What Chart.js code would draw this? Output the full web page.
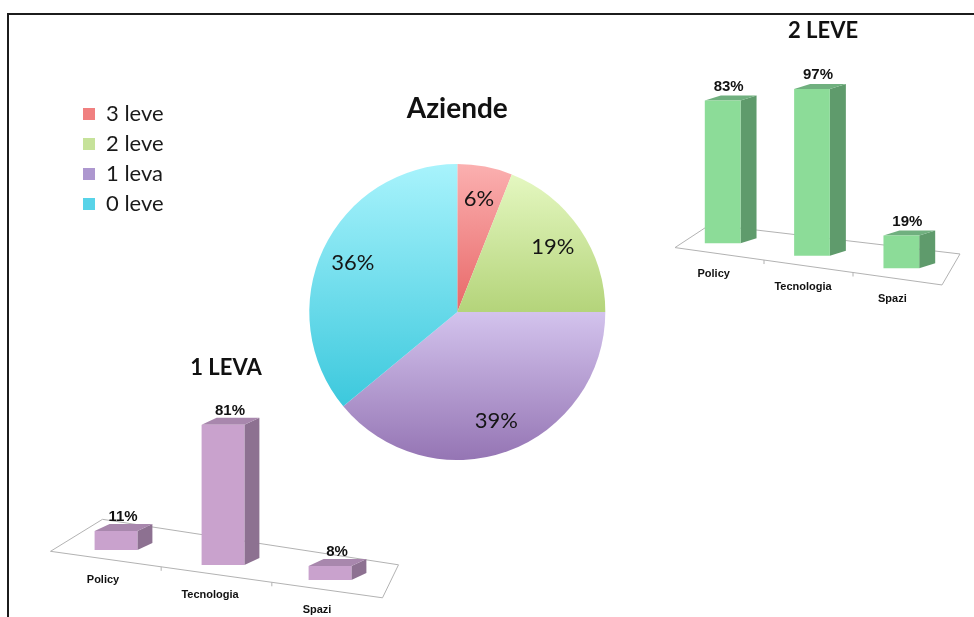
<!DOCTYPE html>
<html>
<head>
<meta charset="utf-8">
<script src="https://cdn.jsdelivr.net/npm/chart.js@4.4.0/dist/chart.umd.min.js"></script>
<style>
    body { margin: 0; width: 974px; height: 617px; background: #fff; overflow: hidden; position: relative; }
    #frame { position: absolute; left: 7px; top: 13px; width: 990px; height: 640px; border-top: 2px solid #1c1c1c; border-left: 2px solid #1c1c1c; }
    canvas { position: absolute; }
    #pieChart { left: 75px; top: 95px; }
    #unaLevaChart { left: 30px; top: 340px; }
    #dueLeveChart { left: 670px; top: 15px; }
</style>
</head>
<body>
<div id="frame"></div>
<canvas id="pieChart" width="666" height="365"></canvas>
<canvas id="unaLevaChart" width="410" height="277"></canvas>
<canvas id="dueLeveChart" width="300" height="300"></canvas>
<script>
let pieLabels = ['3 leve', '2 leve', '1 leva', '0 leve'];
let pieValues = [6, 19, 39, 36];
let barCategories = ['Policy', 'Tecnologia', 'Spazi'];
let unaLevaValues = [11, 81, 8];
let dueLeveValues = [83, 97, 19];

let pieStops = [
    [[0, '#fbb0b0'], [0.5, '#e86868'], [1, '#d84a4a']],
    [[0, '#e8fac6'], [0.5, '#b4d47a'], [1, '#a0c466']],
    [[0, '#e2d4f7'], [0.5, '#d3c3ed'], [1, '#9575b4']],
    [[0, '#a8f3fc'], [1, '#24bfd6']]
];
let legendColors = ['#f08080', '#c6e29a', '#ad97cf', '#58d3e8'];


function sliceGradient(context) {
    let chart = context.chart;
    let area = chart.chartArea;
    let stops = pieStops[context.dataIndex];
    if (!area) {
        return stops[0][1];
    }
    let g = chart.ctx.createLinearGradient(0, area.top, 0, area.bottom);
    stops.forEach(s => g.addColorStop(s[0], s[1]));
    return g;
}


// percent text inside each slice
let pieLabelPlugin = {
    id: 'pieLabels',
    afterDatasetsDraw(chart) {
        let ctx = chart.ctx;
        let meta = chart.getDatasetMeta(0);
        ctx.save();
        ctx.font = '22px Lato';
        ctx.fillStyle = '#151515';
        ctx.textAlign = 'center';
        ctx.textBaseline = 'middle';
        meta.data.forEach((arc, i) => {
            let p = arc.getProps(['x', 'y', 'startAngle', 'endAngle', 'outerRadius'], true);
            let mid = (p.startAngle + p.endAngle) / 2;
            let r = p.outerRadius * 0.78;
            ctx.fillText(pieValues[i] + '%', p.x + Math.cos(mid) * r, p.y + Math.sin(mid) * r);
        });
        ctx.restore();
    }
};


// fake 3d bars on a slanted floor
let bar3dPlugin = {
    id: 'bar3d',
    beforeDatasetsDraw(chart, args, opts) {
        let ctx = chart.ctx;
        let area = chart.chartArea;
        let base = chart.scales.y.getPixelForValue(0);
        let yAt = x => base + opts.slope * (x - area.left) + opts.floorDrop;
        let x0 = area.left + opts.floorX[0];
        let x1 = area.right + opts.floorX[1];
        let bl = opts.floorBackLeft, br = opts.floorBackRight;

        ctx.save();
        ctx.beginPath();
        ctx.moveTo(x0, yAt(x0));
        ctx.lineTo(x1, yAt(x1));
        ctx.lineTo(x1 + br[0], yAt(x1) + br[1]);
        ctx.lineTo(x0 + bl[0], yAt(x0) + bl[1]);
        ctx.closePath();
        ctx.fillStyle = '#fff';
        ctx.fill();
        ctx.strokeStyle = '#b2b2b2';
        ctx.lineWidth = 1;
        ctx.stroke();

        let n = barCategories.length;
        for (let i = 1; i < n; i++) {
            let xb = x0 + (x1 - x0) * i / n;
            ctx.beginPath();
            ctx.moveTo(xb, yAt(xb));
            ctx.lineTo(xb, yAt(xb) + 4);
            ctx.stroke();
        }
        ctx.restore();
    },
    beforeDatasetDraw(chart, args, opts) {
        let ctx = chart.ctx;
        let area = chart.chartArea;
        let dx = opts.depth[0], dy = opts.depth[1];

        args.meta.data.forEach(bar => {
            let p = bar.getProps(['x', 'y', 'base', 'width'], true);
            let shift = opts.slope * (p.x - area.left);
            let left = p.x - p.width / 2;
            let right = p.x + p.width / 2;
            let top = p.y + shift;
            let bottom = p.base + shift;

            ctx.save();
            ctx.fillStyle = opts.sideColor;
            ctx.beginPath();
            ctx.moveTo(right, top);
            ctx.lineTo(right + dx, top + dy);
            ctx.lineTo(right + dx, bottom + dy);
            ctx.lineTo(right, bottom);
            ctx.closePath();
            ctx.fill();

            ctx.fillStyle = opts.topColor;
            ctx.beginPath();
            ctx.moveTo(left, top);
            ctx.lineTo(left + dx, top + dy);
            ctx.lineTo(right + dx, top + dy);
            ctx.lineTo(right, top);
            ctx.closePath();
            ctx.fill();

            ctx.translate(0, shift);
            bar.draw(ctx, area);
            ctx.restore();
        });
        return false;
    },
    afterDraw(chart, args, opts) {
        let ctx = chart.ctx;
        let area = chart.chartArea;
        let xs = chart.scales.x;
        let ys = chart.scales.y;
        let values = chart.data.datasets[0].data;

        ctx.save();
        ctx.textAlign = 'center';
        ctx.textBaseline = 'middle';
        ctx.fillStyle = '#111';

        ctx.font = 'bold 22px Lato';
        ctx.fillText(opts.title, opts.titlePos[0], opts.titlePos[1]);

        for (let i = 0; i < values.length; i++) {
            let x = xs.getPixelForValue(i);
            let shift = opts.slope * (x - area.left);
            let top = ys.getPixelForValue(values[i]) + shift;
            let base = ys.getPixelForValue(0) + shift;

            ctx.font = 'bold 15px "Liberation Sans"';
            ctx.fillText(values[i] + '%', x + opts.valOffset[0], top + opts.valOffset[1]);

            ctx.font = 'bold 11px "Liberation Sans"';
            ctx.fillText(barCategories[i], x + opts.catOffset[0], base + opts.catOffset[1]);
        }
        ctx.restore();
    }
};


function createBarChart(canvasId, values, colors, padding, look) {
    return new Chart(canvasId, {
        type: 'bar',
        data: {
            labels: barCategories,
            datasets: [{
                data: values,
                backgroundColor: colors.front,
                borderWidth: 0,
                categoryPercentage: 1,
                barPercentage: 0.4
            }]
        },
        options: {
            responsive: false,
            animation: false,
            layout: { padding: padding },
            scales: {
                x: { display: false },
                y: { display: false, min: 0, max: 100 }
            },
            plugins: {
                legend: { display: false },
                tooltip: { enabled: false },
                bar3d: Object.assign({ sideColor: colors.side, topColor: colors.top }, look)
            }
        },
        plugins: [bar3dPlugin]
    });
}


function createPieChart() {
    return new Chart('pieChart', {
        type: 'pie',
        data: {
            labels: pieLabels,
            datasets: [{
                data: pieValues,
                backgroundColor: sliceGradient,
                borderWidth: 0,
                hoverOffset: 0
            }]
        },
        options: {
            responsive: false,
            animation: false,
            layout: { padding: 0 },
            plugins: {
                legend: {
                    position: 'left',
                    align: 'start',
                    weight: 3000,
                    fullSize: true,
                    labels: {
                        boxWidth: 12,
                        boxHeight: 12,
                        padding: 8,
                        color: '#1a1a1a',
                        font: { family: 'Lato', size: 22 },
                        generateLabels: chart => Chart.overrides.doughnut.plugins.legend.labels.generateLabels(chart).map((l, i) => {
                            l.fillStyle = legendColors[i];
                            l.strokeStyle = legendColors[i];
                            l.lineWidth = 0;
                            return l;
                        })
                    }
                },
                title: {
                    display: true,
                    text: 'Aziende',
                    fullSize: false,
                    color: '#111',
                    font: { family: 'Lato', size: 28, weight: 'bold', lineHeight: 1 },
                    padding: { top: 0, bottom: 41 }
                },
                tooltip: { enabled: false }
            }
        },
        plugins: [pieLabelPlugin]
    });
}


createPieChart();

createBarChart('unaLevaChart', unaLevaValues,
    { front: '#c9a2cd', side: '#8d7191', top: '#a887ad' },
    { left: 32.5, right: 56.5, top: 29.5, bottom: 74.5 },
    { title: '1 LEVA', titlePos: [196, 28], slope: 0.14, depth: [15, -7], floorX: [-12, -1], floorDrop: 10.5,
      floorBackLeft: [52, -32], floorBackRight: [16, -33], valOffset: [7, -14], catOffset: [-13, 30] });

createBarChart('dueLeveChart', dueLeveValues,
    { front: '#8cdc98', side: '#5f9b6c', top: '#70b07f' },
    { left: 8, right: 24, top: 50, bottom: 78 },
    { title: '2 LEVE', titlePos: [153, 16], slope: 0.14, depth: [16, -5], floorX: [-3, -4], floorDrop: 11,
      floorBackLeft: [35, -23], floorBackRight: [18, -31], valOffset: [6, -14], catOffset: [-9, 31] });
</script>
</body>
</html>
